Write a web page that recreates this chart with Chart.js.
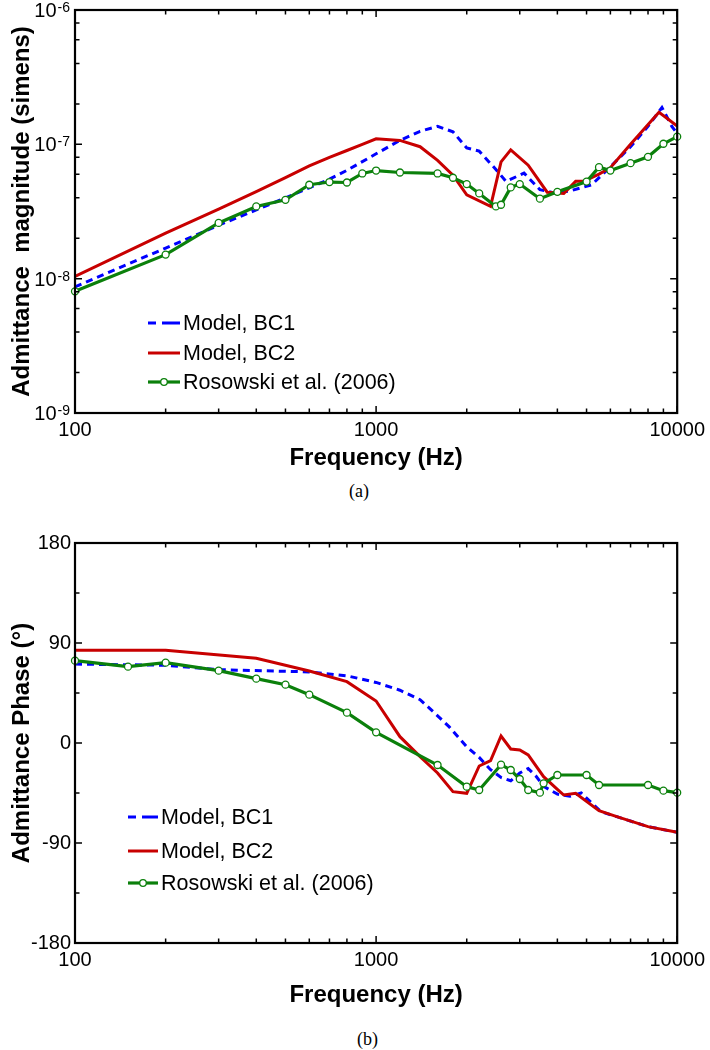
<!DOCTYPE html>
<html>
<head>
<meta charset="utf-8">
<script src="https://cdn.jsdelivr.net/npm/chart.js@4.4.1/dist/chart.umd.min.js"></script>
<style>
  body { margin: 0; background: #fff; width: 710px; height: 1050px; position: relative; overflow: hidden;
         font-family: "Liberation Sans", Arial, sans-serif; }
  canvas { position: absolute; left: 0; }
  #magChart { top: 0; }
  #phaseChart { top: 527px; }
  .legend { position: absolute; font-size: 21.5px; color: #000; }
  .legend .row { position: absolute; left: 0; height: 30px; display: flex; align-items: center; white-space: nowrap; }
  .legend svg { margin-right: 3px; }
  .caption { position: absolute; font-family: "Liberation Serif", "Times New Roman", serif; font-size: 18px; }
</style>
</head>
<body>
<canvas id="magChart" width="710" height="480"></canvas>
<canvas id="phaseChart" width="710" height="490"></canvas>
<div class="legend" id="magLegend" style="left:148px; top:0;"></div>
<div class="legend" id="phaseLegend" style="left:128px; top:0;"></div>
<div class="caption" style="left:349px; top:481px;">(a)</div>
<div class="caption" style="left:357px; top:1029px;">(b)</div>

<script>
// series names / colours
const seriesNames = ['Model, BC1', 'Model, BC2', 'Rosowski et al. (2006)']
const seriesColors = ['#0000ff', '#c80000', '#0b800b']

// panel (a): admittance magnitude (siemens) vs frequency (Hz)
const magBc1Freq = [100, 200, 300, 400, 500, 600, 700, 800, 1000, 1200, 1400, 1600, 1800, 2000, 2200, 2500, 2700, 3100, 3500, 3900, 4400, 5200, 6000, 7000, 8000, 8900, 9600, 10000]
const magBc1 = [8.7e-9, 1.69e-8, 2.5e-8, 3.25e-8, 4.0e-8, 4.75e-8, 5.5e-8, 6.4e-8, 8.5e-8, 1.07e-7, 1.25e-7, 1.36e-7, 1.24e-7, 9.4e-8, 8.9e-8, 6.5e-8, 5.3e-8, 6.1e-8, 4.6e-8, 4.35e-8, 4.5e-8, 5.0e-8, 6.8e-8, 9.6e-8, 1.36e-7, 1.88e-7, 1.36e-7, 1.2e-7]

const magBc2Freq = [100, 200, 300, 400, 500, 600, 700, 800, 900, 1000, 1200, 1400, 1600, 1800, 2000, 2400, 2600, 2800, 3200, 3700, 4200, 4600, 4900, 5500, 6000, 7000, 8700, 10000]
const magBc2 = [1.04e-8, 2.18e-8, 3.3e-8, 4.45e-8, 5.65e-8, 6.9e-8, 8.0e-8, 9.0e-8, 1.0e-7, 1.1e-7, 1.07e-7, 9.6e-8, 7.6e-8, 5.9e-8, 4.2e-8, 3.45e-8, 7.4e-8, 9.1e-8, 7.0e-8, 4.4e-8, 4.3e-8, 5.3e-8, 5.3e-8, 6.0e-8, 6.7e-8, 1.0e-7, 1.73e-7, 1.37e-7]

const magDataFreq = [100, 200, 300, 400, 500, 600, 700, 800, 900, 1000, 1200, 1600, 1800, 2000, 2200, 2500, 2600, 2800, 3000, 3500, 4000, 5000, 5500, 6000, 7000, 8000, 9000, 10000]
const magData = [8.05e-9, 1.51e-8, 2.6e-8, 3.45e-8, 3.86e-8, 5.0e-8, 5.24e-8, 5.2e-8, 6.07e-8, 6.38e-8, 6.17e-8, 6.07e-8, 5.64e-8, 5.06e-8, 4.31e-8, 3.45e-8, 3.55e-8, 4.78e-8, 5.06e-8, 3.94e-8, 4.43e-8, 5.28e-8, 6.76e-8, 6.38e-8, 7.24e-8, 8.07e-8, 1.01e-7, 1.14e-7]

// panel (b): admittance phase (degrees) vs frequency (Hz)
const phBc1Freq = [100, 200, 300, 600, 800, 1000, 1200, 1400, 1550, 1750, 2000, 2200, 2400, 2600, 2800, 3000, 3200, 3400, 3600, 4000, 4400, 4800, 5200, 5600, 6300, 8000, 10000]
const phBc1 = [71, 70, 66, 64, 60.5, 54.5, 47.5, 39, 28, 14.5, -3.5, -13, -24, -31, -34, -27, -23, -30, -39, -46, -48, -45, -54, -62, -66.3, -75.3, -80.4]

const phBc2Freq = [100, 200, 400, 600, 800, 1000, 1200, 1400, 1600, 1800, 2000, 2200, 2400, 2600, 2800, 3000, 3200, 3600, 4000, 4200, 4600, 5500, 6300, 8000, 10000]
const phBc2 = [83.4, 83.4, 76.2, 64.8, 55.2, 37.8, 5.7, -12.3, -27, -43.8, -45.3, -20.7, -15.9, 6.3, -5.4, -6.3, -10.8, -30.3, -41.7, -46.8, -45.3, -60.9, -66.3, -75.3, -80.4]

const phDataFreq = [100, 150, 200, 300, 400, 500, 600, 800, 1000, 1600, 2000, 2200, 2600, 2800, 3000, 3200, 3500, 3600, 4000, 5000, 5500, 8000, 9000, 10000]
const phData = [74.1, 68.7, 72.3, 65.1, 57.9, 52.5, 43.5, 27.3, 9.6, -19.8, -39.3, -42.3, -19.5, -24.3, -32.4, -42.3, -44.7, -36.3, -28.8, -28.8, -37.8, -37.8, -42.9, -44.7]

// tick values and labels
const freqTicks = [100, 1000, 10000]
const freqMinorTicks = [200, 300, 400, 500, 600, 700, 800, 900, 2000, 3000, 4000, 5000, 6000, 7000, 8000, 9000]
const magTicks = [1e-9, 1e-8, 1e-7, 1e-6]
const magTickBase = '10'
const magTickExps = ['-9', '-8', '-7', '-6']
const magMinorTicks = [2e-9, 4e-9, 6e-9, 8e-9, 2e-8, 4e-8, 6e-8, 8e-8, 2e-7, 4e-7, 6e-7, 8e-7]
const phaseTicks = [-180, -90, 0, 90, 180]
const phaseMinorTicks = [-135, -45, 45, 135]

const fontFamily = '"Liberation Sans", Arial, sans-serif'
Chart.defaults.font.family = fontFamily
Chart.defaults.color = '#000'

let pts = (xs, ys) => xs.map((x, i) => ({ x: x, y: ys[i] }))

// box round the plot with matlab-style inward ticks (+ power-of-ten labels)
let frameTicks = {
  id: 'frameTicks',
  afterDraw(chart, args, opts) {
    let ctx = chart.ctx
    let a = chart.chartArea
    let x = chart.scales.x
    let y = chart.scales.y
    ctx.save()
    ctx.strokeStyle = '#000'
    ctx.lineWidth = 1.5
    ctx.beginPath()
    let tickX = (vals, len) => vals.forEach(v => {
      let px = x.getPixelForValue(v)
      ctx.moveTo(px, a.bottom); ctx.lineTo(px, a.bottom - len)
      ctx.moveTo(px, a.top); ctx.lineTo(px, a.top + len)
    })
    let tickY = (vals, len) => vals.forEach(v => {
      let py = y.getPixelForValue(v)
      ctx.moveTo(a.left, py); ctx.lineTo(a.left + len, py)
      ctx.moveTo(a.right, py); ctx.lineTo(a.right - len, py)
    })
    tickX(freqTicks, 7)
    tickX(freqMinorTicks, 4.5)
    tickY(opts.yMajor, 7)
    tickY(opts.yMinor, 4.5)
    ctx.stroke()
    ctx.lineWidth = 2.2
    ctx.strokeRect(a.left, a.top, a.right - a.left, a.bottom - a.top)

    if (opts.expLabels) {
      ctx.fillStyle = '#000'
      ctx.textAlign = 'right'
      ctx.textBaseline = 'alphabetic'
      opts.yMajor.forEach((v, i) => {
        let py = y.getPixelForValue(v)
        let right = a.left - 5
        ctx.font = '14px ' + fontFamily
        let ew = ctx.measureText(opts.expLabels[i]).width
        ctx.fillText(opts.expLabels[i], right, py + 2)
        ctx.font = '20px ' + fontFamily
        ctx.fillText(magTickBase, right - ew - 1, py + 7)
      })
    }
    ctx.restore()
  }
}

function makeChart(id, data, yScale, yMajor, yMinor, padTop, xHeight, yTitle, expLabels) {
  let datasets = [
    { label: seriesNames[2], data: data[2], borderColor: seriesColors[2], borderWidth: 3.2,
      pointRadius: 3.5, pointBorderWidth: 1.3, pointBackgroundColor: '#fff', pointBorderColor: seriesColors[2], clip: false },
    { label: seriesNames[1], data: data[1], borderColor: seriesColors[1], borderWidth: 3, pointRadius: 0 },
    { label: seriesNames[0], data: data[0], borderColor: seriesColors[0], borderWidth: 3, borderDash: [7, 5], pointRadius: 0 }
  ]
  yScale.position = 'left'
  yScale.grid = { display: false, drawTicks: false }
  yScale.border = { display: false }
  yScale.ticks.padding = 4
  yScale.ticks.font = { size: 20 }
  yScale.title = { display: true, text: yTitle, font: { size: 24, weight: 'bold' }, padding: { top: 8, bottom: 0 } }
  yScale.afterFit = s => { s.width = 75 }
  return new Chart(document.getElementById(id), {
    type: 'line',
    data: { datasets: datasets },
    plugins: [frameTicks],
    options: {
      responsive: false,
      animation: false,
      devicePixelRatio: 1,
      layout: { padding: { top: padTop, right: 30, left: 0, bottom: 0 } },
      plugins: { legend: { display: false }, tooltip: { enabled: false },
                 frameTicks: { yMajor: yMajor, yMinor: yMinor, expLabels: expLabels } },
      scales: {
        x: {
          type: 'logarithmic', min: 100, max: 10000, position: 'bottom',
          grid: { display: false, drawTicks: false }, border: { display: false },
          afterBuildTicks: s => { s.ticks = freqTicks.map(v => ({ value: v })) },
          ticks: { autoSkip: false, maxRotation: 0, padding: 5, font: { size: 20 }, callback: (v, i) => String(freqTicks[i]) },
          title: { display: true, text: 'Frequency (Hz)', font: { size: 24, weight: 'bold' }, padding: { top: 0, bottom: 7 } },
          afterFit: s => { s.height = xHeight }
        },
        y: yScale
      }
    }
  })
}

makeChart('magChart', [pts(magBc1Freq, magBc1), pts(magBc2Freq, magBc2), pts(magDataFreq, magData)], {
  type: 'logarithmic', min: 1e-9, max: 1e-6,
  afterBuildTicks: s => { s.ticks = magTicks.map(v => ({ value: v })) },
  ticks: { display: false }
}, magTicks, magMinorTicks, 10, 67, 'Admittance  magnitude (simens)', magTickExps)

makeChart('phaseChart', [pts(phBc1Freq, phBc1), pts(phBc2Freq, phBc2), pts(phDataFreq, phData)], {
  type: 'linear', min: -180, max: 180,
  afterBuildTicks: s => { s.ticks = phaseTicks.map(v => ({ value: v })) },
  ticks: { autoSkip: false, callback: (v, i) => String(phaseTicks[i]) }
}, phaseTicks, phaseMinorTicks, 13, 74, 'Admittance Phase (°)', null)

// legends drawn inside the plots
function buildLegend(id, rowCenters, sampleWidth) {
  let box = document.getElementById(id)
  seriesNames.forEach((name, i) => {
    let row = document.createElement('div')
    row.className = 'row'
    row.style.top = (rowCenters[i] - 15) + 'px'
    let w = sampleWidth
    let line = ''
    if (i === 0) {
      line = `<line x1="0" y1="6" x2="${w}" y2="6" stroke="${seriesColors[0]}" stroke-width="3" stroke-dasharray="8,6,${w}"/>`
    } else if (i === 1) {
      line = `<line x1="0" y1="6" x2="${w}" y2="6" stroke="${seriesColors[1]}" stroke-width="3"/>`
    } else {
      line = `<line x1="0" y1="6" x2="${w}" y2="6" stroke="${seriesColors[2]}" stroke-width="3.2"/>` +
             `<circle cx="${w / 2}" cy="6" r="3.3" fill="#fff" stroke="${seriesColors[2]}" stroke-width="1.3"/>`
    }
    row.innerHTML = `<svg width="${w}" height="12">${line}</svg><span>${name}</span>`
    box.appendChild(row)
  })
}

buildLegend('magLegend', [323, 353, 382], 32)
buildLegend('phaseLegend', [817, 851, 883], 30)
</script>
</body>
</html>
